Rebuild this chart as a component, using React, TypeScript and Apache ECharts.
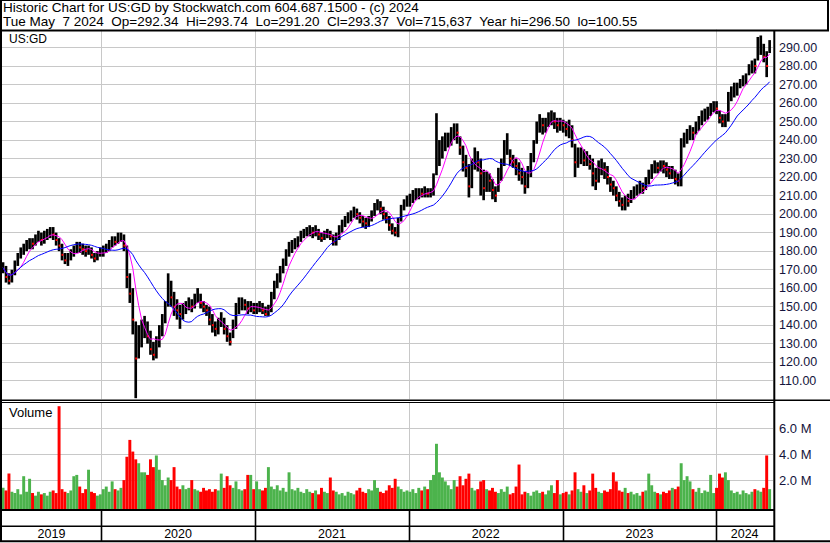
import React, { useEffect, useRef } from "react";
import * as echarts from "echarts";

// ---------------- data (weekly) ----------------
const close2019 = [171,166,164,168,173,177,180,182,183,185,184,187,189,186,188,190,191,189,186,183,178,175,176,179,181,183,182,181,180,181,178,176,178,180];
const high2019 = [174,172,168,170,175,179,182,184,186,187,187,189,191,190,191,192,193,193,190,187,184,179,179,181,183,185,185,184,183,183,182,179,180,182];
const low2019 = [168,163,162,163,167,172,176,178,180,181,181,183,185,183,184,186,187,186,183,180,175,173,172,175,177,179,179,178,177,178,176,174,175,177];

const close2020 = [181,182,184,186,185,188,188,183,166,157,143,122,133,137,141,134,127,124,130,136,143,150,162,155,150,148,146,149,150,152,150,155,157,152,150,148,143,140,138,140,143,138,134,131,140,148,150,152,151,149,150,148];
const high2020 = [183,184,186,188,188,190,190,189,183,168,160,142,140,143,145,142,137,131,134,140,146,153,168,164,158,154,151,152,153,155,154,157,160,157,153,151,150,146,142,144,147,144,140,136,143,152,155,155,154,153,153,152];
const low2020 = [177,179,180,182,183,184,185,180,160,152,135,100.55,122,128,133,130,124,121,122,128,134,141,150,150,145,143,138,143,146,148,147,149,152,149,147,145,140,136,134,135,139,135,131,129,133,138,146,148,148,146,147,146];

const close2021 = [149,150,148,146,148,155,162,165,170,174,179,182,183,185,186,189,190,191,192,190,191,189,187,189,190,188,185,187,192,195,197,199,200,202,200,198,196,195,197,200,204,206,203,200,198,194,191,190,195,203,206,208];
const high2021 = [152,153,152,150,151,158,164,168,172,176,181,185,186,187,188,191,192,193,194,193,194,192,190,191,192,191,189,190,194,197,199,201,202,204,203,201,199,198,199,202,206,208,207,204,201,199,195,193,198,205,208,210];
const low2021 = [146,147,146,145,145,147,154,160,163,168,172,177,179,181,182,185,187,188,188,187,188,186,185,186,187,186,183,183,186,190,193,195,196,198,197,195,193,192,193,196,199,202,200,197,195,191,189,188,187.5,196,202,204];

const close2022 = [208,210,211,212,211,213,211,212,216,232,236,238,240,242,243,246,244,236,228,225,215,226,232,228,222,214,219,218,213,210,220,226,235,238,230,228,226,222,220,215,222,229,236,246,250,248,249,252,254,250,248,249];
const high2022 = [211,213,214,214,214,215,214,214,222,254.5,240,242,244,244,247,249,249,242,237,232,227,230,236,234,230,224,223,222,219,215,225,230,240,243.7,235,232,230,228,225,223,226,233,240,250,254,252,252,255,256,255,252,252];
const low2022 = [204,206,207.5,208,209,209,209,209,210,221,226,230,234,236,237,240,238,232,223,220,209,214,224,223,210,207.5,212,212,208,206.5,212,218,226,232,226,225,221,218,216,211,214,220,228,238,244,243,244,247,248,246,244,245];

const close2023 = [248,246,247,240,228,230,232,229,230,227,222,218,224,226,224,220,216,214,210,207,205,208,207,210,212,213,215,214,217,221,224,226,225,227,226,224,222,223,219,218,238,240,243,245,244,247,250,252,254,256,258,259];
const high2023 = [251,250,251,248,238,236,236,235,234,232,230,225,229,230,228,226,220,218,215,212,209,210,211,213,215,216,218,217,220,224,227,229,228,229,229,228,226,226,224,222,241,244,246,248,247,250,253,256,257,258,260,261];
const low2023 = [244,242,241,236,220,225,227,226,226,224,215,213,217,221,219,216,212,210,207,204,202,202,204,206,208,210,211,211,213,216,219,222,222,223,222,220,219,219,216,215,215,236,238,240,240,243,245,248,250,251,253,255];

const close2024 = [257,252,250,251,262,266,268,268,271,272,274,279,282,280,289,292,285,280,293];
const high2024 = [261,256,254,254,266,269,271,271,273,275,276,281,283,284,295.7,296.5,292,288,294];
const low2024 = [254,249,247,247,250,261,263,264,268,269,270,275,276,276,283,286,282,274,287];

// volume, millions of shares
const vol2019 = [1.4,1.2,2.5,1.1,1.0,1.3,0.9,2.3,1.1,2.1,1.0,0.8,1.1,0.9,1.0,0.8,1.1,1.2,1.0,7.7,1.3,1.1,1.0,1.2,2.3,2.4,1.5,1.0,1.3,2.8,1.1,1.0,0.8,0.9];
const vol2020 = [1.3,1.5,1.1,1.9,1.3,1.2,1.4,2.0,3.8,5.1,4.2,3.6,3.3,2.6,2.6,2.4,3.6,3.0,3.9,2.8,2.0,1.6,2.2,2.0,3.0,1.5,1.3,1.6,1.3,1.4,2.0,1.3,1.2,1.1,1.4,1.2,1.3,1.1,1.3,1.2,2.5,1.4,2.3,1.6,1.4,1.9,1.3,1.2,1.3,2.4,2.4,1.3];
const vol2021 = [1.9,1.3,1.2,1.4,3.0,1.5,1.3,1.6,1.2,1.4,1.1,2.6,1.3,1.2,1.4,1.1,1.0,1.3,1.1,1.0,1.2,0.9,1.4,1.1,1.0,2.2,1.2,1.1,0.9,1.0,0.8,1.1,1.0,0.9,1.2,1.4,1.1,1.0,1.3,1.2,2.0,1.4,1.1,1.0,1.2,1.6,1.4,2.1,1.5,1.3,1.1,1.2];
const vol2022 = [1.1,1.3,1.0,1.4,1.2,1.5,1.3,2.0,2.4,4.8,2.6,2.2,1.9,1.6,1.3,2.0,1.5,2.3,1.6,2.1,2.5,1.4,1.2,1.3,1.9,2.0,1.3,1.2,1.4,1.1,1.0,1.3,1.1,1.5,0.9,1.0,1.5,3.2,0.9,1.1,1.0,0.8,1.1,1.2,1.0,1.1,0.9,1.2,1.6,1.0,2.0,0.9];
const vol2023 = [1.0,1.1,0.9,1.2,2.6,1.3,1.1,1.6,1.0,1.2,2.5,1.4,1.1,1.0,1.2,1.1,1.3,2.6,1.9,1.2,1.1,1.4,1.0,1.1,0.9,1.0,0.8,1.1,1.2,2.5,1.6,1.1,1.0,0.9,1.1,1.0,1.2,1.4,1.3,1.5,3.3,2.0,2.3,1.9,1.3,1.1,1.4,1.0,1.2,1.1,2.4,1.0];
const vol2024 = [1.4,2.5,2.2,2.6,2.0,1.2,1.0,1.1,0.9,1.2,1.0,0.9,1.1,1.3,1.2,1.1,1.4,3.9,1.3];

const years = ["2019", "2020", "2021", "2022", "2023", "2024"];
const volTicks = [2, 4, 6];
const maFastWeeks = 6;
const maSlowWeeks = 20;
const titleLine1 = "Historic Chart for US:GD by Stockwatch.com 604.687.1500 - (c) 2024";
const titleLine2 = "Tue May  7 2024  Op=292.34  Hi=293.74  Lo=291.20  Cl=293.37  Vol=715,637  Year hi=296.50  lo=100.55";

// ---------------- derived ----------------
const closes = [...close2019, ...close2020, ...close2021, ...close2022, ...close2023, ...close2024];
const highs = [...high2019, ...high2020, ...high2021, ...high2022, ...high2023, ...high2024];
const lows = [...low2019, ...low2020, ...low2021, ...low2022, ...low2023, ...low2024];
const vols = [...vol2019, ...vol2020, ...vol2021, ...vol2022, ...vol2023, ...vol2024];

const ORIGIN = Date.UTC(2019, 4, 11);
const dayOf = (y: number, m: number, d: number) => (Date.UTC(y, m, d) - ORIGIN) / 86400000;
const AXIS_MIN = 0;
const AXIS_MAX = dayOf(2024, 4, 14) + 0.5;
const FIRST_CENTER = dayOf(2019, 4, 13) + 0.5;
const centers = closes.map((_, i) => FIRST_CENTER + 7 * i);

const VOL_MIN = -0.23;
const VOL_MAX = 7.97;

function sma(n: number) {
  return closes.map((_, i) => {
    const s = Math.max(0, i - n + 1);
    let sum = 0;
    for (let k = s; k <= i; k++) sum += closes[k];
    return [centers[i], +(sum / (i - s + 1)).toFixed(2)];
  });
}

const priceData = closes.map((c, i) => [centers[i], c, lows[i], highs[i], i > 0 ? closes[i - 1] : c]);
const volData = vols.map((v, i) => [centers[i], v, closes[i] < (i > 0 ? closes[i - 1] : closes[i]) ? 0 : 1]);
const yearStarts = years.map((y) => Math.max(AXIS_MIN, dayOf(+y, 0, 1)));
const yearSegments = years.map((y, k) => [yearStarts[k], k + 1 < years.length ? yearStarts[k + 1] : AXIS_MAX, k]);
const boundaries = yearStarts.filter((d) => d > AXIS_MIN).map((d) => [d, 0]);

const FONT = '"Liberation Sans", Arial, sans-serif';
const GRID = "#c8c8c8";

export default function App() {
  const ref = useRef<HTMLDivElement>(null);

  useEffect(() => {
    document.body.style.margin = "0";
    if (!ref.current) return;
    const chart = echarts.init(ref.current, undefined, { renderer: "svg" });

    const vGrid = (xi: number) => ({
      type: "custom",
      xAxisIndex: xi,
      yAxisIndex: xi,
      silent: true,
      z: 1,
      data: boundaries,
      encode: { x: 0, y: 1 },
      renderItem: (params: any, api: any) => {
        const cs = params.coordSys;
        const x = Math.round(api.coord([api.value(0), xi === 0 ? 200 : 1])[0]) + 0.5;
        return {
          type: "line",
          shape: { x1: x, y1: cs.y, x2: x, y2: cs.y + cs.height },
          style: { stroke: GRID, lineWidth: 1 },
        };
      },
    });

    const option: any = {
      animation: false,
      backgroundColor: "#ffffff",
      grid: [
        { left: 2, top: 29, width: 771, height: 370.2 },
        { left: 2, top: 402.7, width: 771, height: 106.3 },
        { left: 2, top: 510, width: 771, height: 31 },
      ],
      xAxis: [0, 1, 2].map((g) => ({ type: "value", gridIndex: g, min: AXIS_MIN, max: AXIS_MAX, show: false })),
      yAxis: [
        {
          type: "value",
          gridIndex: 0,
          position: "right",
          min: 100,
          max: 300,
          interval: 10,
          axisLine: { show: false },
          axisTick: { show: false },
          axisLabel: {
            margin: 6,
            fontSize: 12.5,
            fontFamily: FONT,
            color: "#14143c",
            formatter: (v: number) => (v === 100 || v === 300 ? "" : v.toFixed(2)),
          },
          splitLine: { show: true, showMinLine: false, showMaxLine: false, lineStyle: { color: GRID, width: 1 } },
        },
        { type: "value", gridIndex: 1, min: VOL_MIN, max: VOL_MAX, show: false },
        { type: "value", gridIndex: 2, min: 0, max: 1, show: false },
      ],
      series: [
        vGrid(0),
        {
          type: "custom",
          name: "price",
          xAxisIndex: 0,
          yAxisIndex: 0,
          z: 2,
          silent: true,
          data: priceData,
          encode: { x: 0, y: [2, 3] },
          renderItem: (params: any, api: any) => {
            const x = api.value(0);
            const c = api.value(1);
            const lo = api.value(2);
            const hi = api.value(3);
            const pc = api.value(4);
            const pHi = api.coord([x, hi]);
            const pLo = api.coord([x, lo]);
            const pC = api.coord([x, c]);
            const w = api.size([7, 0])[0] * 0.9;
            const children: any[] = [
              {
                type: "rect",
                shape: { x: pHi[0] - w / 2, y: pHi[1], width: w, height: Math.max(1, pLo[1] - pHi[1]) },
                style: { fill: "#000000" },
              },
            ];
            if (c < pc) {
              children.push({
                type: "rect",
                shape: { x: pC[0] - 0.5, y: pC[1] - 1, width: 2, height: 2 },
                style: { fill: "#ff0000" },
              });
            }
            return { type: "group", children };
          },
        },
        {
          type: "line",
          name: "MA fast",
          xAxisIndex: 0,
          yAxisIndex: 0,
          z: 3,
          silent: true,
          showSymbol: false,
          data: sma(maFastWeeks),
          lineStyle: { color: "#ff00ff", width: 1 },
          itemStyle: { color: "#ff00ff" },
        },
        {
          type: "line",
          name: "MA slow",
          xAxisIndex: 0,
          yAxisIndex: 0,
          z: 3,
          silent: true,
          showSymbol: false,
          data: sma(maSlowWeeks),
          lineStyle: { color: "#0000ff", width: 1 },
          itemStyle: { color: "#0000ff" },
        },
        vGrid(1),
        {
          type: "custom",
          name: "volGrid",
          xAxisIndex: 1,
          yAxisIndex: 1,
          z: 1,
          silent: true,
          clip: false,
          data: volTicks.map((v) => [AXIS_MIN, v]),
          encode: { x: 0, y: 1 },
          renderItem: (params: any, api: any) => {
            const cs = params.coordSys;
            const v = api.value(1);
            const y = Math.round(api.coord([AXIS_MIN, v])[1]) + 0.5;
            return {
              type: "group",
              children: [
                {
                  type: "line",
                  shape: { x1: cs.x, y1: y, x2: cs.x + cs.width, y2: y },
                  style: { stroke: GRID, lineWidth: 1 },
                },
                {
                  type: "text",
                  x: cs.x + cs.width + 6,
                  y: y,
                  style: {
                    text: v.toFixed(1) + " M",
                    font: `13px ${FONT}`,
                    fill: "#14143c",
                    textAlign: "left",
                    align: "left",
                    textVerticalAlign: "middle",
                    verticalAlign: "middle",
                  },
                },
              ],
            };
          },
        },
        {
          type: "custom",
          name: "volume",
          xAxisIndex: 1,
          yAxisIndex: 1,
          z: 2,
          silent: true,
          data: volData,
          encode: { x: 0, y: 1 },
          renderItem: (params: any, api: any) => {
            const x = api.value(0);
            const v = api.value(1);
            const up = api.value(2);
            const top = api.coord([x, v]);
            const base = api.coord([x, VOL_MIN]);
            const w = api.size([7, 0])[0];
            return {
              type: "rect",
              shape: { x: top[0] - w / 2, y: top[1], width: w, height: base[1] - top[1] },
              style: { fill: up ? "#4cb34c" : "#ff0000" },
            };
          },
        },
        {
          type: "custom",
          name: "years",
          xAxisIndex: 2,
          yAxisIndex: 2,
          z: 3,
          silent: true,
          clip: false,
          data: yearSegments,
          encode: { x: [0, 1] },
          renderItem: (params: any, api: any) => {
            const cs = params.coordSys;
            const s = api.value(0);
            const e = api.value(1);
            const k = api.value(2);
            const x1 = api.coord([s, 0])[0];
            const x2 = api.coord([e, 0])[0];
            const children: any[] = [
              {
                type: "text",
                x: (x1 + x2) / 2,
                y: cs.y + cs.height - 7,
                style: {
                  text: years[k],
                  font: `12.5px ${FONT}`,
                  fill: "#000000",
                  textAlign: "center",
                  align: "center",
                  textVerticalAlign: "middle",
                  verticalAlign: "middle",
                },
              },
            ];
            if (s > AXIS_MIN) {
              const lx = Math.round(x1) + 0.5;
              children.push({
                type: "line",
                shape: { x1: lx, y1: cs.y, x2: lx, y2: cs.y + cs.height },
                style: { stroke: "#000000", lineWidth: 1.6 },
              });
            }
            return { type: "group", children };
          },
        },
      ],
      graphic: [
        { type: "rect", z: 50, shape: { x: 0, y: 0, width: 830, height: 29.5 }, style: { fill: "#ffffff" } },
        { type: "line", z: 100, shape: { x1: 0, y1: 0.5, x2: 829, y2: 0.5 }, style: { stroke: "#000", lineWidth: 1 } },
        { type: "line", z: 100, shape: { x1: 1, y1: 0, x2: 1, y2: 542 }, style: { stroke: "#000", lineWidth: 2 } },
        { type: "line", z: 100, shape: { x1: 828, y1: 0, x2: 828, y2: 31 }, style: { stroke: "#000", lineWidth: 2 } },
        { type: "line", z: 100, shape: { x1: 0, y1: 30.5, x2: 829, y2: 30.5 }, style: { stroke: "#000", lineWidth: 2 } },
        { type: "line", z: 100, shape: { x1: 774.3, y1: 30, x2: 774.3, y2: 542 }, style: { stroke: "#000", lineWidth: 2 } },
        { type: "line", z: 100, shape: { x1: 0, y1: 400.2, x2: 830, y2: 400.2 }, style: { stroke: "#000", lineWidth: 1.5 } },
        { type: "line", z: 100, shape: { x1: 0, y1: 402.5, x2: 774, y2: 402.5 }, style: { stroke: "#000", lineWidth: 1 } },
        { type: "line", z: 100, shape: { x1: 0, y1: 510, x2: 774, y2: 510 }, style: { stroke: "#000", lineWidth: 2 } },
        { type: "line", z: 100, shape: { x1: 0, y1: 526.2, x2: 774, y2: 526.2 }, style: { stroke: "#000", lineWidth: 1.5 } },
        { type: "line", z: 100, shape: { x1: 0, y1: 541.2, x2: 830, y2: 541.2 }, style: { stroke: "#000", lineWidth: 2 } },
        { type: "text", z: 100, left: 3, top: 0, style: { text: titleLine1, font: `13.5px ${FONT}`, fill: "#000" } },
        { type: "text", z: 100, left: 3, top: 14, style: { text: titleLine2, font: `13.5px ${FONT}`, fill: "#000" } },
        { type: "text", z: 100, left: 9, top: 33, style: { text: "US:GD", font: `12px ${FONT}`, fill: "#000" } },
        { type: "text", z: 100, left: 9, top: 406, style: { text: "Volume", font: `13px ${FONT}`, fill: "#000" } },
      ],
    };

    chart.setOption(option);
    return () => chart.dispose();
  }, []);

  return <div ref={ref} style={{ width: 830, height: 543, background: "#fff" }} />;
}
